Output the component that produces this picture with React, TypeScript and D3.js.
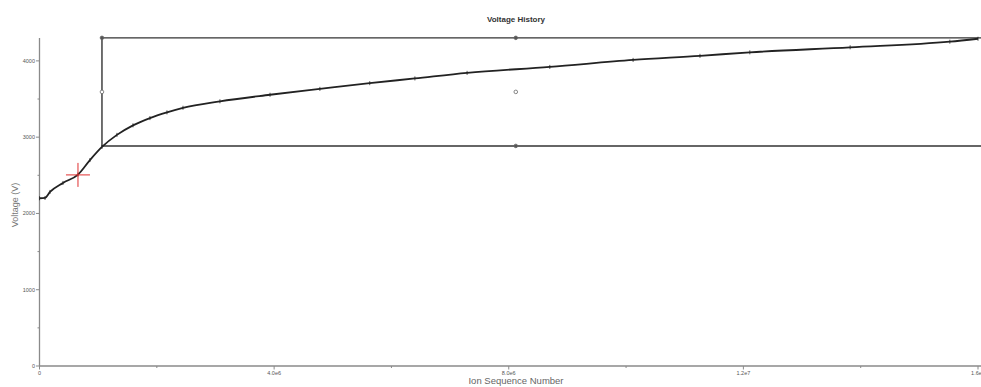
import React from "react";
import * as d3 from "d3";

const ionSeq: number[] = [0, 0.094e6, 0.179e6, 0.4e6, 0.656e6, 0.86e6, 1.065e6, 1.32e6, 1.594e6, 1.883e6, 2.173e6, 2.446e6, 3.076e6, 3.93e6, 4.78e6, 5.63e6, 6.4e6, 7.29e6, 8.7e6, 10.12e6, 11.26e6, 12.11e6, 13.82e6, 15.52e6, 16.0e6];
const voltage: number[] = [2199, 2203, 2282, 2400, 2510, 2700, 2872, 3030, 3155, 3250, 3325, 3385, 3470, 3556, 3633, 3708, 3770, 3843, 3921, 4013, 4066, 4112, 4178, 4252, 4290];

const yTicks: number[] = [0, 1000, 2000, 3000, 4000];
const yMinorTicks: number[] = [500, 1500, 2500, 3500];
const xTicks: number[] = [0, 4.0e6, 8.0e6, 1.2e7, 1.6e7];
const xTickLabels: string[] = ["0", "4.0e6", "8.0e6", "1.2e7", "1.6e7"];
const xMinorTicks: number[] = [2e6, 6e6, 1.0e7, 1.4e7];

const boxX: number[] = [1.065e6, 1.62e7];
const boxY: number[] = [2885, 4302];
const cursor: number[] = [0.656e6, 2505];

export default function App() {
  const W = 981, H = 387;
  const x = d3.scaleLinear().domain([0, 1.6e7]).range([39.5, 978]);
  const y = d3.scaleLinear().domain([0, 4300]).range([366, 38]);
  const line = d3.line<number>().x((_, i) => x(ionSeq[i])).y((v) => y(v)).curve(d3.curveMonotoneX);
  const font = "Liberation Sans, Arial, sans-serif";
  const axisCol = "#8a8a8a";
  const bx0 = x(boxX[0]), bx1 = x(boxX[1]), by0 = y(boxY[1]), by1 = y(boxY[0]);
  const bxm = x(8.12e6), bym = (by0 + by1) / 2;
  return (
    <svg width={W} height={H} style={{ position: "absolute", left: 0, top: 0, background: "#fff" }}>
      <text x={516} y={22} textAnchor="middle" fontFamily={font} fontSize={8} fontWeight="bold" fill="#333">Voltage History</text>
      {/* axes */}
      <line x1={39.5} x2={39.5} y1={38} y2={366} stroke={axisCol} strokeWidth={1.3} />
      <line x1={39.5} x2={W} y1={366} y2={366} stroke={axisCol} strokeWidth={1.3} />
      {yTicks.map((t) => (
        <g key={"y" + t}>
          <line x1={36} x2={39.5} y1={y(t)} y2={y(t)} stroke={axisCol} />
          <text x={35} y={y(t) + 2} textAnchor="end" fontFamily={font} fontSize={5.5} fill="#555">{t}</text>
        </g>
      ))}
      {yMinorTicks.map((t) => (
        <line key={"ym" + t} x1={37.5} x2={39.5} y1={y(t)} y2={y(t)} stroke={axisCol} />
      ))}
      {xTicks.map((t, i) => (
        <g key={"x" + t}>
          <line x1={x(t)} x2={x(t)} y1={366} y2={369.5} stroke={axisCol} />
          <text x={x(t)} y={375} textAnchor="middle" fontFamily={font} fontSize={5.5} fill="#555">{xTickLabels[i]}</text>
        </g>
      ))}
      {xMinorTicks.map((t) => (
        <line key={"xm" + t} x1={x(t)} x2={x(t)} y1={366} y2={368} stroke={axisCol} />
      ))}
      <text x={516} y={384} textAnchor="middle" fontFamily={font} fontSize={9.5} fill="#666">Ion Sequence Number</text>
      <text transform={`translate(18,205) rotate(-90)`} textAnchor="middle" fontFamily={font} fontSize={9} fill="#777">Voltage (V)</text>
      {/* selection box */}
      <g stroke="#333" strokeWidth={1.4} fill="none">
        <line x1={bx0} x2={bx1} y1={by0} y2={by0} />
        <line x1={bx0} x2={bx1} y1={by1} y2={by1} />
        <line x1={bx0} x2={bx0} y1={by0} y2={by1} />
      </g>
      {[[bx0, by0], [bx0, bym], [bxm, by0], [bxm, bym], [bxm, by1]].map(([cx, cy], i) => (
        <circle key={"h" + i} cx={cx} cy={cy} r={1.8} fill={i === 1 || i === 3 ? "#fff" : "#555"} stroke="#666" strokeWidth={0.8} />
      ))}
      {/* data line */}
      <path d={line(voltage) || ""} fill="none" stroke="#222" strokeWidth={1.8} />
      {voltage.map((v, i) => (
        <line key={"m" + i} x1={x(ionSeq[i])} x2={x(ionSeq[i])} y1={y(v) - 2} y2={y(v) + 2} stroke="#222" strokeWidth={0.8} />
      ))}
      {/* cursor */}
      <g stroke="#e03030" strokeWidth={1}>
        <line x1={x(cursor[0]) - 12} x2={x(cursor[0]) + 12} y1={y(cursor[1])} y2={y(cursor[1])} />
        <line x1={x(cursor[0])} x2={x(cursor[0])} y1={y(cursor[1]) - 12} y2={y(cursor[1]) + 12} />
      </g>
    </svg>
  );
}
